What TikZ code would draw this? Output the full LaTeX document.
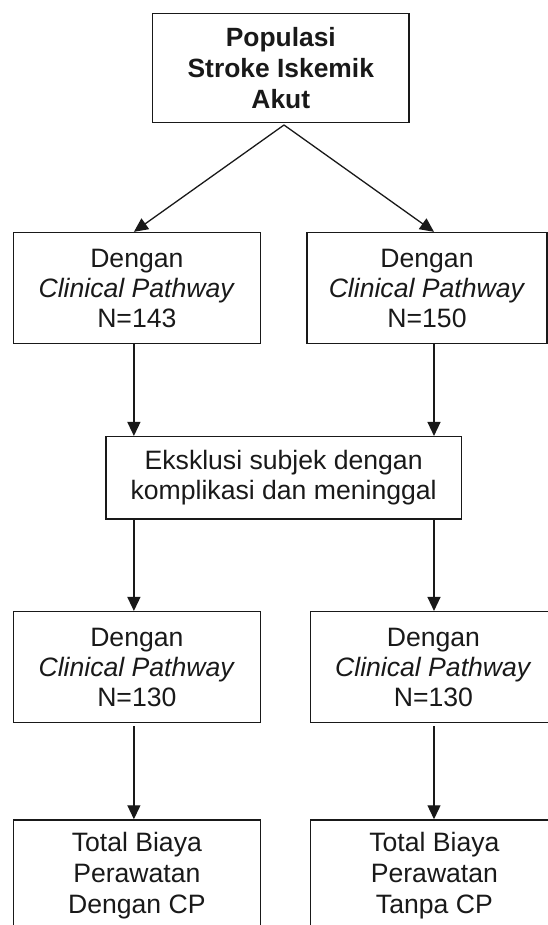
\documentclass[tikz,border=0pt]{standalone}
\usepackage{fontspec}
\setmainfont{Liberation Sans}
\usetikzlibrary{arrows.meta}
\begin{document}
\begin{tikzpicture}[x=1pt,y=-1pt,
  box/.style={draw=black!90,line width=1.5pt,rectangle,inner sep=0pt,align=center,
    font=\fontsize{26.6}{30}\selectfont,text=black!90},
  conn/.style={draw=black!90,line width=1.3pt,-{Triangle[width=13pt,length=14pt]}}]
\useasboundingbox (0,0) rectangle (548,925);
\node[box,minimum width=256.2pt,minimum height=109.4pt,font=\fontsize{26.4}{31}\selectfont\bfseries] (top) at (280.8,68) {Populasi\\Stroke Iskemik\\Akut};
\node[box,minimum width=247.1pt,minimum height=110.8pt] (l1) at (136.85,288) {Dengan\\\textit{Clinical Pathway}\\N=143};
\node[box,minimum width=240.1pt,minimum height=110.8pt] (r1) at (427,288) {Dengan\\\textit{Clinical Pathway}\\N=150};
\node[box,minimum width=355.3pt,minimum height=82.3pt] (ex) at (283.65,477.85) {Eksklusi subjek dengan\\komplikasi dan meninggal};
\node[box,minimum width=247.1pt,minimum height=111pt] (l2) at (136.85,667.2) {Dengan\\\textit{Clinical Pathway}\\N=130};
\node[box,minimum width=246pt,minimum height=111pt] (r2) at (433.4,667.2) {Dengan\\\textit{Clinical Pathway}\\N=130};
\node[box,minimum width=247.1pt,minimum height=111pt,font=\fontsize{26.6}{31}\selectfont] (l3) at (136.85,875.5) {Total Biaya\\Perawatan\\Dengan CP};
\node[box,minimum width=248pt,minimum height=111pt,font=\fontsize{26.6}{31}\selectfont] (r3) at (434.4,875.5) {Total Biaya\\Perawatan\\Tanpa CP};
\coordinate (cl) at (133.9,0);
\coordinate (cr) at (434,0);
\coordinate (apex) at (284,125);
\draw[conn] (apex) -- (l1.north -| cl);
\draw[conn] (apex) -- (r1.north -| cr);
\draw[conn] (l1.south -| cl) -- (ex.north -| cl);
\draw[conn] (r1.south -| cr) -- (ex.north -| cr);
\draw[conn] (ex.south -| cl) -- (l2.north -| cl);
\draw[conn] (ex.south -| cr) -- (r2.north -| cr);
\draw[conn,shorten <=3pt] (l2.south -| cl) -- (l3.north -| cl);
\draw[conn,shorten <=3pt] (r2.south -| cr) -- (r3.north -| cr);
\end{tikzpicture}
\end{document}
